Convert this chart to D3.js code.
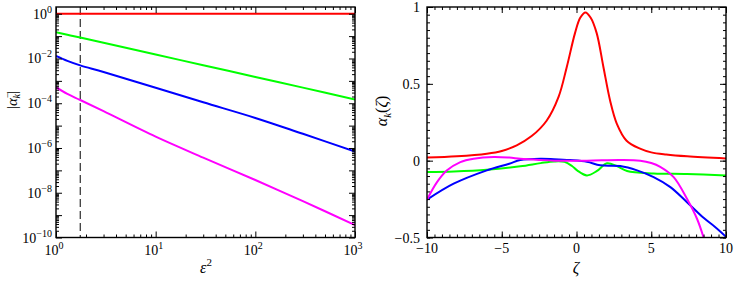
<!DOCTYPE html>
<html>
<head>
<meta charset="utf-8">
<script src="https://cdn.jsdelivr.net/npm/d3@7"></script>
<style>
  body { margin: 0; background: #fff; }
  svg { display: block; }
  text { font-family: "Liberation Serif", "DejaVu Serif", serif; fill: #000; }
</style>
</head>
<body>
<svg id="chart" width="736" height="281"></svg>
<script>
// left panel: |alpha_k^-| versus eps^2 (log-log)
var eps2 = [1, 1.3, 1.75, 3, 10, 30, 100, 300, 1000];
var absRed = [1, 1, 1, 1, 1, 1, 1, 1, 1];
var absGreen = [0.15, 0.115, 0.086, 0.05, 0.015, 0.005, 0.0015, 5e-4, 1.45e-4];
var absBlue = [0.013, 0.0078, 0.0049, 2.5e-3, 4.9e-4, 1.1e-4, 2.2e-5, 4.3e-6, 7e-7];
var absMagenta = [5.2e-4, 2.6e-4, 1.4e-4, 4.4e-5, 3.2e-6, 3.7e-7, 3.7e-8, 4.2e-9, 3.6e-10];
var dashedEps2 = 1.75;
var leftXTicks = [1, 10, 100, 1000];
var leftYTicks = [1e0, 1e-2, 1e-4, 1e-6, 1e-8, 1e-10];

// right panel: alpha_k(zeta)
var zetaRed = [-10, -8, -6, -5, -4, -3, -2, -1.2, -0.65, -0.1, 0.25, 0.6, 0.95, 1.35, 1.8, 2.25, 2.7, 3.35, 4.25, 5, 6, 7.4, 10];
var valRed = [0.02, 0.028, 0.045, 0.063, 0.1, 0.16, 0.26, 0.415, 0.61, 0.83, 0.93, 0.965, 0.93, 0.83, 0.61, 0.39, 0.24, 0.13, 0.078, 0.054, 0.04, 0.028, 0.014];
var zetaGreen = [-10, -8.2, -6, -3.76, -2.4, -1.5, -0.8, -0.3, 0.04, 0.7, 1.37, 2.04, 2.7, 3.38, 5.16, 7.39, 10];
var valGreen = [-0.074, -0.07, -0.059, -0.037, -0.016, -0.005, -0.008, -0.035, -0.063, -0.096, -0.067, -0.017, -0.035, -0.067, -0.083, -0.087, -0.096];
var zetaBlue = [-10, -8.22, -6, -4.5, -3.76, -2.4, -1.5, -0.43, 0.7, 1.59, 2.93, 4.05, 5.16, 6.28, 7.39, 8.5, 9.25, 10];
var valBlue = [-0.254, -0.15, -0.063, -0.02, 0.004, 0.013, 0.01, 0.004, -0.007, -0.03, -0.035, -0.063, -0.107, -0.172, -0.27, -0.372, -0.43, -0.495];
var zetaMagenta = [-10, -9.33, -8.66, -7.77, -6.88, -5.54, -4.5, -3.76, -2.5, -1.5, 0.7, 2.9, 4.27, 5, 5.6, 6.5, 7.39, 8.06, 8.5, 9, 9.5];
var valMagenta = [-0.254, -0.14, -0.063, -0.009, 0.013, 0.024, 0.02, 0.013, 0.005, 0, 0, 0.004, 0, -0.015, -0.04, -0.107, -0.248, -0.378, -0.5, -0.68, -0.9];
var rightXTicks = [-10, -5, 0, 5, 10];
var rightYTicks = [-0.5, 0, 0.5, 1];
var rightYLabels = ["\u22120.5", "0", "0.5", "1"];

var colors = { red: "#ff0000", green: "#00ff00", blue: "#0000ff", magenta: "#ff00ff" };

var svg = d3.select("#chart");

var top0 = 7, bot0 = 237.5;

var xL = d3.scaleLog().domain([1, 1000]).range([56, 355]);
var yL = d3.scaleLog().domain([1e-10, 2]).range([bot0, top0]);
var xR = d3.scaleLinear().domain([-10, 10]).range([427, 726]);
var yR = d3.scaleLinear().domain([-0.5, 1]).range([bot0, top0]);

function logMinors(lo, hi) {
  var out = [];
  for (var e = lo; e < hi; e++) {
    for (var m = 2; m <= 9; m++) out.push(m * Math.pow(10, e));
  }
  return out;
}

function frameTicks(g, x, y, xMajor, xMinor, yMajor, yMinor) {
  var x0 = x.range()[0], x1 = x.range()[1];
  var y0 = y.range()[0], y1 = y.range()[1];
  var spec = [
    [d3.axisBottom, x, xMajor, 6, "translate(0," + y0 + ")"],
    [d3.axisBottom, x, xMinor, 3, "translate(0," + y0 + ")"],
    [d3.axisTop, x, xMajor, 6, "translate(0," + y1 + ")"],
    [d3.axisTop, x, xMinor, 3, "translate(0," + y1 + ")"],
    [d3.axisLeft, y, yMajor, 6, "translate(" + x0 + ",0)"],
    [d3.axisLeft, y, yMinor, 3, "translate(" + x0 + ",0)"],
    [d3.axisRight, y, yMajor, 6, "translate(" + x1 + ",0)"],
    [d3.axisRight, y, yMinor, 3, "translate(" + x1 + ",0)"]
  ];
  spec.forEach(function(s) {
    var ax = g.append("g")
      .attr("transform", s[4])
      .call(s[0](s[1]).tickValues(s[2]).tickSize(-s[3]).tickSizeOuter(0).tickFormat(""));
    ax.select(".domain").remove();
    ax.selectAll("line").attr("stroke", "#000").attr("stroke-width", 1);
  });
  g.append("rect")
    .attr("x", x0).attr("y", y1)
    .attr("width", x1 - x0).attr("height", y0 - y1)
    .attr("fill", "none").attr("stroke", "#000").attr("stroke-width", 1.4);
}

function powLabel(g, x, y, anchor, exp) {
  var t = g.append("text").attr("x", x).attr("y", y).attr("text-anchor", anchor)
    .style("font-size", "14px");
  t.append("tspan").text("10");
  t.append("tspan").attr("dy", -6).style("font-size", "10px").text(exp);
}

// ---------- left panel ----------
var gl = svg.append("g");
gl.append("clipPath").attr("id", "clipL").append("rect")
  .attr("x", 56).attr("y", top0).attr("width", 299).attr("height", bot0 - top0);

var lineL = d3.line()
  .x(function(d) { return xL(d[0]); })
  .y(function(d) { return yL(d[1]); })
  .curve(d3.curveCatmullRom.alpha(0.5));

var plotL = gl.append("g").attr("clip-path", "url(#clipL)");
plotL.append("line")
  .attr("x1", xL(dashedEps2)).attr("x2", xL(dashedEps2))
  .attr("y1", top0).attr("y2", bot0)
  .attr("stroke", "#000").attr("stroke-width", 1)
  .attr("stroke-dasharray", "8,4");

[[absRed, colors.red], [absGreen, colors.green], [absBlue, colors.blue], [absMagenta, colors.magenta]]
  .forEach(function(s) {
    plotL.append("path")
      .datum(eps2.map(function(e, i) { return [e, s[0][i]]; }))
      .attr("d", lineL)
      .attr("fill", "none")
      .attr("stroke", s[1])
      .attr("stroke-width", 2);
  });

var decades = d3.range(-10, 1).map(function(e) { return Math.pow(10, e); });
frameTicks(gl, xL, yL, leftXTicks, logMinors(0, 3), decades, logMinors(-10, 0));

leftXTicks.forEach(function(v) {
  powLabel(gl, xL(v) - 2, 255, "middle", String(Math.round(Math.log10(v))));
});
leftYTicks.forEach(function(v) {
  var e = Math.round(Math.log10(v));
  powLabel(gl, 52, yL(v) + 5, "end", e < 0 ? "\u2212" + (-e) : String(e));
});

var xlabL = gl.append("text").attr("x", 206).attr("y", 273).attr("text-anchor", "middle")
  .style("font-size", "16px");
xlabL.append("tspan").style("font-style", "italic").text("\u03b5");
xlabL.append("tspan").attr("dy", -7).style("font-size", "11px").text("2");

var ylabL = gl.append("text").attr("text-anchor", "middle")
  .attr("transform", "translate(17,100) rotate(-90)")
  .style("font-size", "15px");
ylabL.append("tspan").text("|");
ylabL.append("tspan").style("font-style", "italic").text("\u03b1");
ylabL.append("tspan").attr("dy", -6).style("font-size", "10px").text("\u2212");
ylabL.append("tspan").attr("dx", -6).attr("dy", 9).style("font-size", "10px").style("font-style", "italic").text("k");
ylabL.append("tspan").attr("dy", -3).text("|");

// ---------- right panel ----------
var gr = svg.append("g");
gr.append("clipPath").attr("id", "clipR").append("rect")
  .attr("x", 427).attr("y", top0).attr("width", 299).attr("height", bot0 - top0);

var lineR = d3.line()
  .x(function(d) { return xR(d[0]); })
  .y(function(d) { return yR(d[1]); })
  .curve(d3.curveCatmullRom.alpha(0.5));

var plotR = gr.append("g").attr("clip-path", "url(#clipR)");
[[zetaRed, valRed, colors.red], [zetaGreen, valGreen, colors.green],
 [zetaBlue, valBlue, colors.blue], [zetaMagenta, valMagenta, colors.magenta]]
  .forEach(function(s) {
    plotR.append("path")
      .datum(s[0].map(function(z, i) { return [z, s[1][i]]; }))
      .attr("d", lineR)
      .attr("fill", "none")
      .attr("stroke", s[2])
      .attr("stroke-width", 2);
  });

var xMinorR = d3.range(-10, 10.01, 0.5);
var yMinorR = d3.range(-0.5, 1.001, 0.05);
frameTicks(gr, xR, yR, rightXTicks, xMinorR, rightYTicks, yMinorR);

rightXTicks.forEach(function(v) {
  gr.append("text").attr("x", xR(v)).attr("y", 253).attr("text-anchor", "middle")
    .style("font-size", "14px").text(v < 0 ? "\u2212" + (-v) : String(v));
});
rightYTicks.forEach(function(v, i) {
  gr.append("text").attr("x", 420).attr("y", yR(v) + 5).attr("text-anchor", "end")
    .style("font-size", "14px").text(rightYLabels[i]);
});

gr.append("text").attr("x", 576).attr("y", 273).attr("text-anchor", "middle")
  .style("font-size", "16px").style("font-style", "italic").text("\u03b6");

var ylabR = gr.append("text").attr("text-anchor", "middle")
  .attr("transform", "translate(387,111) rotate(-90)")
  .style("font-size", "16px");
ylabR.append("tspan").style("font-style", "italic").text("\u03b1");
ylabR.append("tspan").attr("dy", 4).style("font-size", "11px").style("font-style", "italic").text("k");
ylabR.append("tspan").attr("dy", -4).text("(");
ylabR.append("tspan").style("font-style", "italic").text("\u03b6");
ylabR.append("tspan").text(")");
</script>
</body>
</html>
